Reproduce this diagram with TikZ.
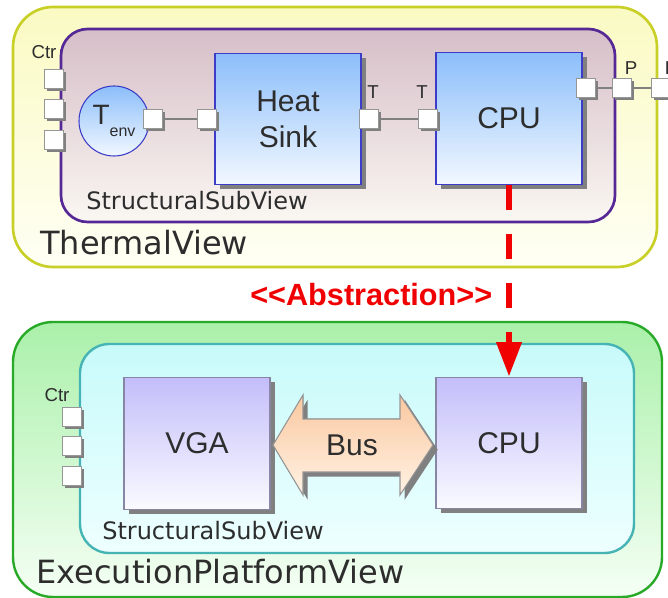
\documentclass[tikz,border=0pt]{standalone}
\usepackage{fontspec}
\setmainfont{Liberation Sans}
\newfontfamily\viewfont{DejaVu Sans}
\usetikzlibrary{shadows,arrows.meta}

\definecolor{thermline}{RGB}{200,208,40}
\definecolor{thermtop}{RGB}{250,250,195}
\definecolor{thermbot}{RGB}{255,255,245}
\definecolor{subline}{RGB}{85,40,150}
\definecolor{subtop}{RGB}{214,190,200}
\definecolor{subbot}{RGB}{250,247,242}
\definecolor{blockline}{RGB}{60,60,200}
\definecolor{blocktop}{RGB}{140,190,250}
\definecolor{blockbot}{RGB}{242,248,255}
\definecolor{execline}{RGB}{40,170,40}
\definecolor{exectop}{RGB}{170,240,170}
\definecolor{execbot}{RGB}{245,255,245}
\definecolor{platline}{RGB}{70,180,180}
\definecolor{plattop}{RGB}{200,250,250}
\definecolor{platbot}{RGB}{238,255,255}
\definecolor{hwline}{RGB}{135,135,165}
\definecolor{hwtop}{RGB}{195,190,250}
\definecolor{hwbot}{RGB}{250,250,255}
\definecolor{bustop}{RGB}{250,200,160}
\definecolor{busbot}{RGB}{255,242,228}
\definecolor{portline}{RGB}{150,150,150}
\definecolor{txtgrey}{RGB}{45,45,45}
\definecolor{absred}{RGB}{240,0,0}

\tikzset{
  shade/.style={drop shadow={shadow xshift=3.5pt, shadow yshift=-3.5pt, fill=gray, opacity=1}},
  block/.style={draw=blockline, line width=0.8pt, top color=blocktop, bottom color=blockbot,
    minimum width=109.5pt, minimum height=98.5pt, text=txtgrey, align=center,
    font=\fontsize{22.5}{27}\selectfont, shade},
  hwblock/.style={block, draw=hwline, top color=hwtop, bottom color=hwbot},
  port/.style={draw=portline, line width=0.8pt, fill=white, minimum size=14pt, inner sep=0pt,
    drop shadow={shadow xshift=2pt, shadow yshift=-2pt, fill=gray, opacity=1}},
  portlabel/.style={text=txtgrey, font=\fontsize{14}{14}\selectfont},
  wire/.style={draw=gray, line width=1.1pt},
  viewlabel/.style={anchor=base west, text=txtgrey, inner sep=0pt, font=\viewfont\fontsize{24}{24}\selectfont},
  sublabel/.style={anchor=base west, text=txtgrey, inner sep=0pt, font=\viewfont\fontsize{18}{18}\selectfont}
}

\begin{document}
\begin{tikzpicture}[x=0.75pt, y=-0.75pt]
	\useasboundingbox (0,0) rectangle (668,598);

	% Thermal view
	\draw[draw=thermline, line width=2pt, top color=thermtop, bottom color=thermbot, rounded corners=30pt] (13,7) rectangle (657,267);
	\draw[draw=subline, line width=2pt, top color=subtop, bottom color=subbot, rounded corners=20pt] (61,29) rectangle (615,222);
	\node[viewlabel] (thermal) at (40,255) {ThermalView};
	\node[sublabel] (thermsub) at (86,210) {StructuralSubView};

	%Ctr ports
	\node[portlabel] (ctrA) at (44,52) {Ctr};
	\node[port] (ctrA1) at (54,79) {};
	\node[port] (ctrA2) at (54,109) {};
	\node[port] (ctrA3) at (54,140) {};

	%Blocks
	\node[draw=blockline, line width=0.8pt, circle, minimum size=52.5pt, inner sep=0pt,
	  top color=blocktop, bottom color=blockbot, text=txtgrey] (tenv) at (114,121)
	  {\fontsize{21}{21}\selectfont T\raisebox{-9.5pt}{\fontsize{12}{12}\selectfont env}};
	\node[block] (sink) at (288,119) {Heat\\Sink};
	\node[block] (cpuT) at (509,118.5) {CPU};

	%Ports and wires
	\node[port] (envout) at (153,119) {};
	\node[port] (sinkin) at (207,119) {};
	\node[port] (sinkout) at (369,119) {};
	\node[port] (cpuin) at (428,119) {};
	\node[port] (cpuout) at (586,88) {};
	\node[port] (subP) at (622,88) {};
	\node[port] (viewP) at (661,88) {};
	\node[portlabel] at (373,92) {T};
	\node[portlabel] at (422,92) {T};
	\node[portlabel] at (631,68) {P};
	\node[portlabel] at (671,68) {P};
	\draw[wire] (envout) -- (sinkin);
	\draw[wire] (sinkout) -- (cpuin);
	\draw[wire] (cpuout) -- (subP);
	\draw[wire] (subP) -- (viewP);

	% Execution platform view
	\draw[draw=execline, line width=1.8pt, top color=exectop, bottom color=execbot, rounded corners=30pt] (13,322) rectangle (662,597);
	\draw[draw=platline, line width=1.8pt, top color=plattop, bottom color=platbot, rounded corners=22pt] (80,344) rectangle (634,553);
	\node[viewlabel] (exec) at (36,583) {ExecutionPlatformView};
	\node[sublabel] (execsub) at (102,540) {StructuralSubView};

	\node[portlabel] (ctrB) at (57,395) {Ctr};
	\node[port] (ctrB1) at (72,417) {};
	\node[port] (ctrB2) at (72,446) {};
	\node[port] (ctrB3) at (72,476) {};

	\node[hwblock] (vga) at (197,443.5) {VGA};
	\node[hwblock] (cpuE) at (509,443) {CPU};

	%Bus
	\filldraw[draw=portline, line width=0.8pt, top color=bustop, bottom color=busbot, shade]
	  (273,445) -- (303,395) -- (303,419) -- (400,419) -- (400,395) -- (433,445)
	  -- (400,495) -- (400,472) -- (303,472) -- (303,495) -- cycle;
	\node[text=txtgrey, font=\fontsize{22.5}{27}\selectfont] (bus) at (352,445) {Bus};

	% Abstraction
	\draw[absred, line width=5pt, dash pattern=on 18.75pt off 18pt, -{Triangle[width=18pt,length=26pt]}] (cpuT.south) -- (cpuE.north);
	\node[anchor=east, text=absred, font=\bfseries\fontsize{23}{23}\selectfont] (abs) at (497,295) {<\kern0pt<Abstraction>\kern0pt>};

\end{tikzpicture}
\end{document}
